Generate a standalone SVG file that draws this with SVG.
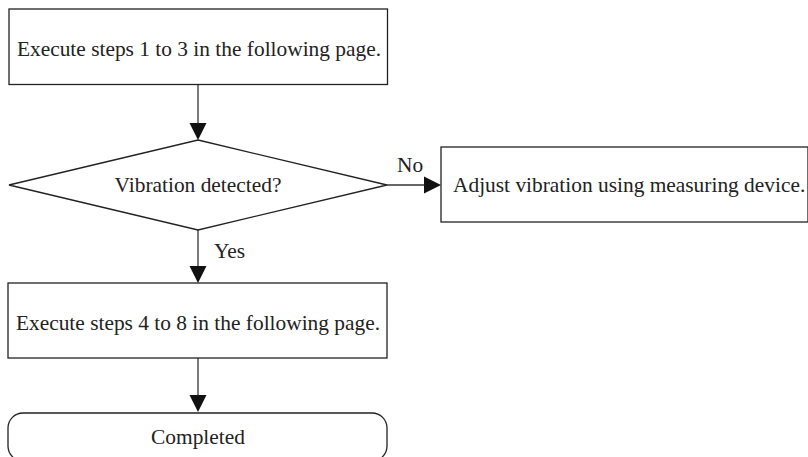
<svg xmlns="http://www.w3.org/2000/svg" width="808" height="457" viewBox="0 0 808 457">
<style>
.box{fill:#fff;stroke:#222;stroke-width:1.3}
.ln{fill:none;stroke:#333;stroke-width:1.3}
.ah{fill:#111}
text{font-family:"Liberation Serif","Times New Roman","DejaVu Serif",serif;font-size:21.4px;fill:#222}
.c{text-anchor:middle}
</style>
<rect width="808" height="457" fill="#fff"/>
<g id="connectors">
<line class="ln" x1="198" y1="84" x2="198" y2="124"/>
<polygon class="ah" points="189.5,123 206.5,123 198,140"/>
<line class="ln" x1="387" y1="185" x2="425" y2="185"/>
<polygon class="ah" points="424,176.5 424,193.5 441,185"/>
<text x="397" y="172">No</text>
<line class="ln" x1="198" y1="230" x2="198" y2="267"/>
<polygon class="ah" points="189.5,266 206.5,266 198,283"/>
<text x="214" y="258">Yes</text>
<line class="ln" x1="198" y1="358" x2="198" y2="396"/>
<polygon class="ah" points="189.5,395 206.5,395 198,412"/>
</g>
<g id="n1">
<rect class="box" x="9" y="9" width="378.5" height="75.5"/>
<text class="c" x="199" y="56">Execute steps 1 to 3 in the following page.</text>
</g>
<g id="n2">
<polygon class="box" points="198,140 387,185 198,230 9,185"/>
<text class="c" x="198" y="192">Vibration detected?</text>
</g>
<g id="n3">
<rect class="box" x="441" y="147" width="367" height="75"/>
<text x="453" y="192">Adjust vibration using measuring device.</text>
</g>
<g id="n4">
<rect class="box" x="8" y="283" width="379" height="75"/>
<text class="c" x="198" y="330">Execute steps 4 to 8 in the following page.</text>
</g>
<g id="n5">
<rect class="box" x="8" y="413" width="379" height="48" rx="15" ry="15"/>
<text class="c" x="198" y="444">Completed</text>
</g>
</svg>
